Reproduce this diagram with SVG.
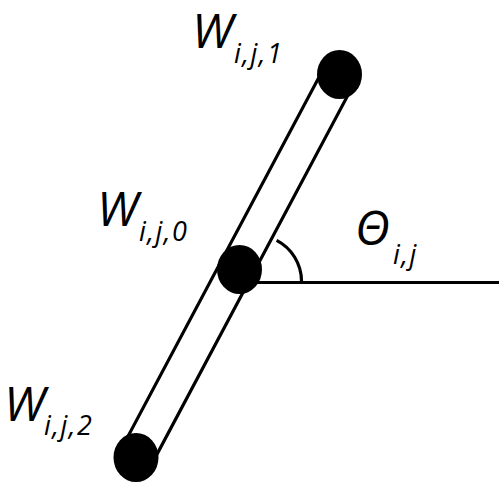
<svg xmlns="http://www.w3.org/2000/svg" width="499" height="496" viewBox="0 0 499 496">
<style>
.ln{stroke:#000;stroke-width:3.2;fill:none}
.dot{fill:#000}
.t{font-family:"Open Sans","Liberation Sans",sans-serif;font-style:italic;fill:#000}
.big{font-size:48px}
.sub{font-size:27px;letter-spacing:1.5px}
</style>
<rect width="499" height="496" fill="#fff"/>
<g id="connectors">
<rect x="-17" y="0" width="34" height="432.6" fill="#fff" stroke="#000" stroke-width="3.2" transform="translate(136,457.5) rotate(208)"/>
<line class="ln" x1="256" y1="282.5" x2="499" y2="282.5"/>
<path class="ln" d="M276.6,240.4 A46,46 0 0 1 301.5,281"/>
</g>
<g id="w1">
<ellipse class="dot" cx="339.5" cy="74.5" rx="22.5" ry="24.5"/>
<text class="t big" x="192" y="48">W</text>
<text class="t sub" x="234" y="63">i,j,1</text>
</g>
<g id="w0">
<ellipse class="dot" cx="239.5" cy="269.5" rx="22.5" ry="24.5"/>
<text class="t big" x="97" y="226">W</text>
<text class="t sub" x="139" y="241">i,j,0</text>
</g>
<g id="w2">
<ellipse class="dot" cx="136" cy="457.5" rx="22.5" ry="24.5"/>
<text class="t big" x="4" y="421">W</text>
<text class="t sub" x="44" y="435">i,j,2</text>
</g>
<g id="theta">
<text class="t big" x="355" y="245">Θ</text>
<text class="t sub" x="393" y="264">i,j</text>
</g>
</svg>
